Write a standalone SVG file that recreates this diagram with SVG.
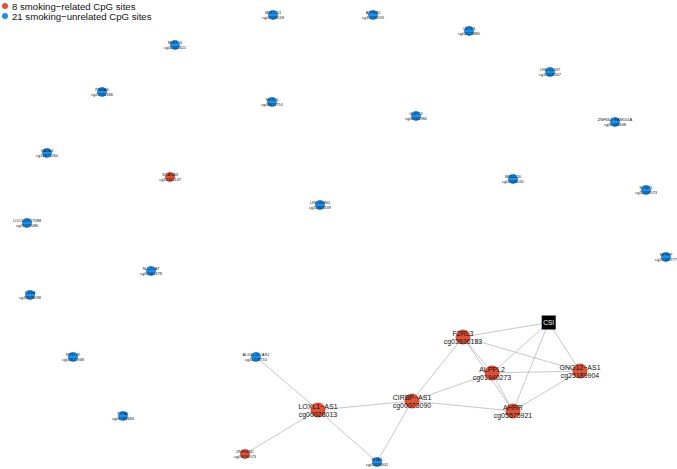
<svg xmlns="http://www.w3.org/2000/svg" width="677" height="469" viewBox="0 0 677 469">
<style>
.e{stroke:#A8A8A8;stroke-width:0.65;fill:none}
.r{fill:#DC5339}
.b{fill:#1E8FEA}
.t{font-family:"Liberation Sans",Arial,sans-serif;fill:#111;text-anchor:middle}
.s{font-size:4px}
.l{font-size:7px}
.lg{font-family:"Liberation Sans",Arial,sans-serif;font-size:9.6px;fill:#111}
</style>
<rect width="677" height="469" fill="#fff"/>
<g id="legend">
<circle cx="5" cy="6" r="3" class="r"/>
<text x="12" y="9.5" class="lg">8 smoking−related CpG sites</text>
<circle cx="5" cy="16" r="3" class="b"/>
<text x="12" y="19.5" class="lg">21 smoking−unrelated CpG sites</text>
</g>
<g id="edges">
<line class="e" x1="548.7" y1="322.5" x2="463" y2="337"/>
<line class="e" x1="548.7" y1="322.5" x2="492" y2="373"/>
<line class="e" x1="548.7" y1="322.5" x2="513" y2="411"/>
<line class="e" x1="548.7" y1="322.5" x2="580" y2="371"/>
<line class="e" x1="463" y1="337" x2="580" y2="371"/>
<line class="e" x1="463" y1="337" x2="492" y2="373"/>
<line class="e" x1="463" y1="337" x2="513" y2="411"/>
<line class="e" x1="463" y1="337" x2="412" y2="401"/>
<line class="e" x1="492" y1="373" x2="513" y2="411"/>
<line class="e" x1="492" y1="373" x2="580" y2="371"/>
<line class="e" x1="492" y1="373" x2="412" y2="401"/>
<line class="e" x1="513" y1="411" x2="580" y2="371"/>
<line class="e" x1="513" y1="411" x2="412" y2="401"/>
<line class="e" x1="412" y1="401" x2="318" y2="410"/>
<line class="e" x1="412" y1="401" x2="377" y2="462"/>
<line class="e" x1="318" y1="410" x2="256" y2="357"/>
<line class="e" x1="318" y1="410" x2="245" y2="454"/>
<line class="e" x1="318" y1="410" x2="377" y2="462"/>
</g>
<g id="n1"><circle cx="273" cy="15" r="5" class="b"/><text class="t s" x="273" y="14">MIR1251</text><text class="t s" x="273" y="19">cg03318518</text></g>
<g id="n2"><circle cx="373" cy="15" r="5" class="b"/><text class="t s" x="373" y="14">ATP8B2</text><text class="t s" x="373" y="19">cg10296559</text></g>
<g id="n3"><circle cx="469" cy="31" r="5" class="b"/><text class="t s" x="469" y="30">CSTF3</text><text class="t s" x="469" y="35">cg02523880</text></g>
<g id="n4"><circle cx="175" cy="45" r="5" class="b"/><text class="t s" x="175" y="44">MIR7−3</text><text class="t s" x="175" y="49">cg02341821</text></g>
<g id="n5"><circle cx="102" cy="92" r="5" class="b"/><text class="t s" x="102" y="91">PSMA6</text><text class="t s" x="102" y="96">cg21934186</text></g>
<g id="n6"><circle cx="550" cy="72" r="5" class="b"/><text class="t s" x="550" y="71">LINC00337</text><text class="t s" x="550" y="76">cg14408307</text></g>
<g id="n7"><circle cx="615" cy="122" r="5" class="b"/><text class="t s" x="615" y="121">ZNF664−FAM101A</text><text class="t s" x="615" y="126">cg05008448</text></g>
<g id="n8"><circle cx="272" cy="102" r="5" class="b"/><text class="t s" x="272" y="101">SETD5</text><text class="t s" x="272" y="106">cg08620710</text></g>
<g id="n9"><circle cx="416" cy="116" r="5" class="b"/><text class="t s" x="416" y="115">GCFC2</text><text class="t s" x="416" y="120">cg04264980</text></g>
<g id="n10"><circle cx="47" cy="153" r="5" class="b"/><text class="t s" x="47" y="152">GATA4</text><text class="t s" x="47" y="157">cg13871260</text></g>
<g id="n11"><circle cx="170" cy="177" r="5" class="r"/><text class="t s" x="170" y="176">SCARA3</text><text class="t s" x="170" y="181">cg13341137</text></g>
<g id="n12"><circle cx="320" cy="205" r="5" class="b"/><text class="t s" x="320" y="204">LINC00861</text><text class="t s" x="320" y="209">cg15869439</text></g>
<g id="n13"><circle cx="513" cy="179" r="5" class="b"/><text class="t s" x="513" y="178">MIR4520</text><text class="t s" x="513" y="183">cg02948031</text></g>
<g id="n14"><circle cx="646" cy="190" r="5" class="b"/><text class="t s" x="646" y="189">KCNT1</text><text class="t s" x="646" y="194">cg11639573</text></g>
<g id="n15"><circle cx="27" cy="223" r="5" class="b"/><text class="t s" x="27" y="222">LOC101927588</text><text class="t s" x="27" y="227">cg26377086</text></g>
<g id="n16"><circle cx="151" cy="271" r="5" class="b"/><text class="t s" x="151" y="270">SLC12A7</text><text class="t s" x="151" y="275">cg05461378</text></g>
<g id="n17"><circle cx="666" cy="257" r="5" class="b"/><text class="t s" x="666" y="256">MPRIP</text><text class="t s" x="666" y="261">cg20080777</text></g>
<g id="n18"><circle cx="30" cy="295" r="5" class="b"/><text class="t s" x="30" y="294">CD8A</text><text class="t s" x="30" y="299">cg18428038</text></g>
<g id="n19"><circle cx="73" cy="357" r="5" class="b"/><text class="t s" x="73" y="356">RPTOR</text><text class="t s" x="73" y="361">cg05821948</text></g>
<g id="n20"><circle cx="123" cy="416" r="5" class="b"/><text class="t s" x="123" y="415">TTPAL</text><text class="t s" x="123" y="420">cg06783484</text></g>
<g id="n21"><circle cx="256" cy="357" r="5" class="b"/><text class="t s" x="256" y="356">ALG1L13−AS1</text><text class="t s" x="256" y="361">cg10278710</text></g>
<g id="n22"><circle cx="245" cy="454" r="5" class="r"/><text class="t s" x="245" y="453">ZNF385D</text><text class="t s" x="245" y="458">cg03036073</text></g>
<g id="n23"><circle cx="377" cy="462" r="5" class="b"/><text class="t s" x="377" y="461">MTA3</text><text class="t s" x="377" y="466">cg05818602</text></g>
<g id="n24"><circle cx="318" cy="410" r="7.5" class="r"/><text class="t l" x="318" y="408.5">LOXL1−AS1</text><text class="t l" x="318" y="416.5">cg00028013</text></g>
<g id="n25"><circle cx="412" cy="401" r="7.5" class="r"/><text class="t l" x="412" y="399.5">CIRBP−AS1</text><text class="t l" x="412" y="407.5">cg00073090</text></g>
<g id="n26"><circle cx="463" cy="337" r="7.5" class="r"/><text class="t l" x="463" y="335.5">F2RL3</text><text class="t l" x="463" y="343.5">cg03636183</text></g>
<g id="n27"><circle cx="492" cy="373" r="7.5" class="r"/><text class="t l" x="492" y="371.5">ALPPL2</text><text class="t l" x="492" y="379.5">cg01940273</text></g>
<g id="n28"><circle cx="580" cy="371" r="7.5" class="r"/><text class="t l" x="580" y="369.5">GNG12−AS1</text><text class="t l" x="580" y="377.5">cg25189904</text></g>
<g id="n29"><circle cx="513" cy="411" r="7.5" class="r"/><text class="t l" x="513" y="409.5">AHRR</text><text class="t l" x="513" y="417.5">cg05575921</text></g>
<g id="csi"><rect x="541.7" y="315.5" width="14" height="14" fill="#000"/><text x="548.7" y="325" font-family="Liberation Sans, Arial, sans-serif" font-size="6.5" fill="#fff" text-anchor="middle">CSI</text></g>
</svg>
